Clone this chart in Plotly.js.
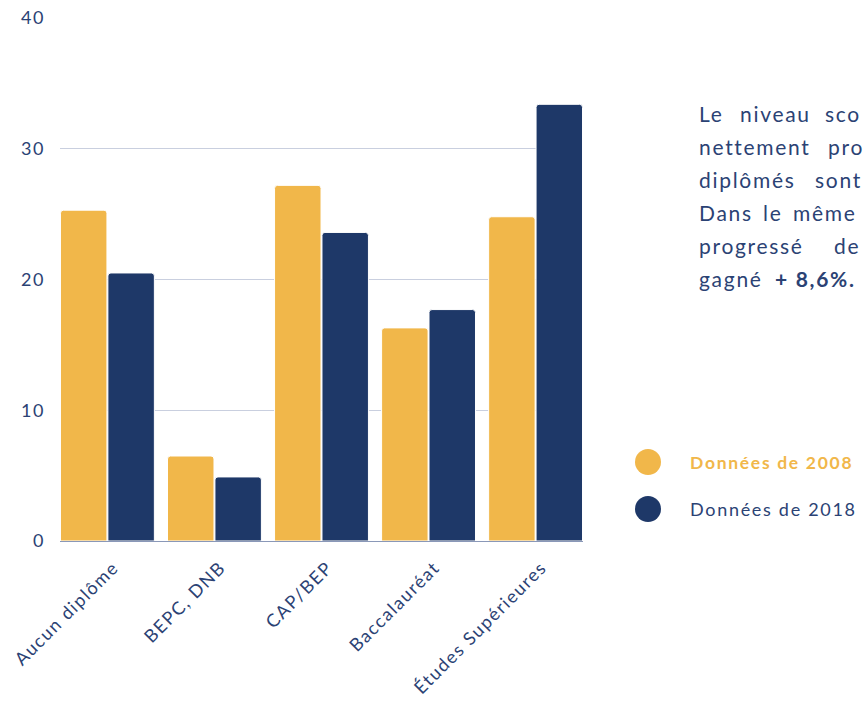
<!DOCTYPE html>
<html><head><meta charset="utf-8">
<script src="https://cdn.plot.ly/plotly-3.0.1.min.js"></script>
<style>
html,body{margin:0;padding:0;background:#fff;}
#chart{width:863px;height:702px;}
.xtick text{letter-spacing:1.5px;}
.ytick text{letter-spacing:1.5px;}
.annotation-text{letter-spacing:1.7px;}
</style>
</head><body><div id="chart"></div>
<script>
var categories = ["Aucun diplôme", "BEPC, DNB", "CAP/BEP", "Baccalauréat", "Études Supérieures"];
var values2008 = [25.3, 6.5, 27.2, 16.3, 24.8];
var values2018 = [20.5, 4.9, 23.6, 17.7, 33.4];
var seriesNames = ["Données de 2008", "Données de 2018"];
var yTicks = [0, 10, 20, 30, 40];
// paragraph words (justified, clipped at the right edge in the reference)
var paragraphWords = [
  ["Le", "niveau", "sco"],
  ["nettement", "pro"],
  ["diplômés", "sont"],
  ["Dans", "le", "même"],
  ["progressé", "de"],
  ["gagné", "<b>+ 8,6%.</b>"]
];

var wordX = [
  [697, 738, 823],
  [697, 826],
  [697, 813],
  [697, 761, 791],
  [697, 832],
  [697, 773]
];

var gold = "#F1B74A", navy = "#1E3868", txt = "#2B4274";
var FONT = "Lato, 'Open Sans', sans-serif";
var W = 863, H = 702, L = 60, R = 280, T = 18, B = 161;
var pw = W - L - R, ph = H - T - B;
function px(x){ return (x - L) / pw; }
function py(y){ return (H - B - y) / ph; }

var traces = [
  {type:"bar", x:categories, y:values2008, name:seriesNames[0],
   marker:{color:gold, cornerradius:3, line:{color:"#fff", width:1}}, hoverinfo:"y"},
  {type:"bar", x:categories, y:values2018, name:seriesNames[1],
   marker:{color:navy, cornerradius:3, line:{color:"#fff", width:1}}, hoverinfo:"y"}
];

var annotations = [];
paragraphWords.forEach(function(line, i){
  line.forEach(function(w, j){
    annotations.push({xref:"paper", yref:"paper", x:px(wordX[i][j]), y:py(113 + i*33.1),
      xanchor:"left", yanchor:"middle", text:w, showarrow:false,
      font:{family:FONT, size:21, color:txt}});
  });
});
annotations.push({xref:"paper", yref:"paper", x:px(688), y:py(462), xanchor:"left", yanchor:"middle",
  text:"<b>"+seriesNames[0]+"</b>", showarrow:false, font:{family:FONT, size:17.5, color:gold}});
annotations.push({xref:"paper", yref:"paper", x:px(688), y:py(509), xanchor:"left", yanchor:"middle",
  text:seriesNames[1], showarrow:false, font:{family:FONT, size:18, color:txt}});

var shapes = [
  {type:"circle", xref:"paper", yref:"paper", xsizemode:"pixel", ysizemode:"pixel",
   xanchor:px(648), yanchor:py(462), x0:-13, x1:13, y0:-13, y1:13, fillcolor:gold, line:{width:0}},
  {type:"circle", xref:"paper", yref:"paper", xsizemode:"pixel", ysizemode:"pixel",
   xanchor:px(648), yanchor:py(509), x0:-13, x1:13, y0:-13, y1:13, fillcolor:navy, line:{width:0}}
];

var layout = {
  width:W, height:H, margin:{l:L, r:R, t:T, b:B, pad:0},
  paper_bgcolor:"#fff", plot_bgcolor:"#fff",
  showlegend:false, barmode:"group", bargap:0.114, bargroupgap:0.02,
  font:{family:FONT, color:txt},
  xaxis:{type:"category", range:[-0.443, 4.443], tickangle:-45, tickfont:{family:FONT, size:18, color:txt},
    showgrid:false, showline:true, linecolor:"#8a98b8", linewidth:1, ticks:"", zeroline:false, fixedrange:true,
    ticklabelstandoff:8, ticklabelshift:6},
  yaxis:{range:[0,40], tickvals:yTicks, ticktext:yTicks.map(String), tickfont:{family:FONT, size:18, color:txt},
    showgrid:true, gridcolor:"#c9cfdf", gridwidth:1, zeroline:false, showline:false, ticks:"",
    ticklabelstandoff:14, fixedrange:true},
  annotations:annotations, shapes:shapes
};

Plotly.newPlot("chart", traces, layout, {displayModeBar:false, staticPlot:true});
</script></body></html>
